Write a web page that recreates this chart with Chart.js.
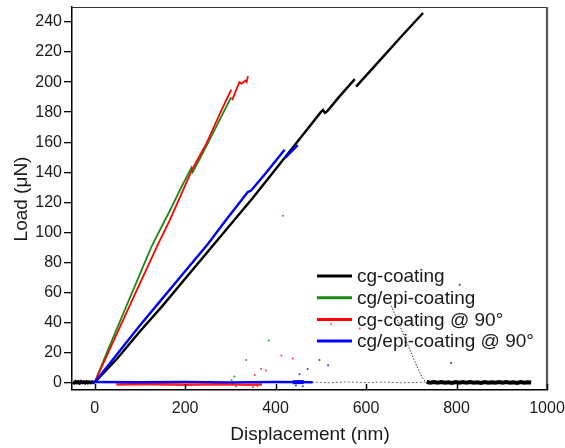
<!DOCTYPE html>
<html>
<head>
<meta charset="utf-8">
<script src="https://cdn.jsdelivr.net/npm/chart.js@4/dist/chart.umd.min.js"></script>
<style>
  html, body { margin: 0; padding: 0; background: #fff; }
  #wrap { width: 565px; height: 448px; }
</style>
</head>
<body>
<div id="wrap"><canvas id="c" width="565" height="448"></canvas></div>
<script>
// Axis ticks
const xTicks = [0, 200, 400, 600, 800, 1000];
const yTicks = [0, 20, 40, 60, 80, 100, 120, 140, 160, 180, 200, 220, 240];

// cg-coating: approach noise, loading (two branches around the load drop), unloading, retraction baseline
const cgPre = [[-48,0.4],[-45,-0.2],[-42,0.5],[-39,-0.1],[-36,0.4],[-33,-0.3],[-30,0.5],[-27,0],[-24,0.4],[-21,-0.2],[-18,0.4],[-15,-0.2],[-12,0.3],[-9,-0.1],[-6,0.3],[-3,0],[0,0]];
const cgLoadA = [[0,0],[50,16],[100,34],[150,51],[200,69],[250,87],[300,105],[350,123],[400,142],[450,161],[500,180],[505,181.5],[509,179.5],[514,180.5],[540,190],[575,202]];
const cgLoadB = [[578,197],[620,211],[680,231],[726,246]];
const cgUnload = [[656,51],[663,46],[670,41],[677,36],[684,31],[691,26],[698,21],[705,16],[712,11],[719,6.5],[725,3],[730,1],[734,0]];
const cgFlat = [[480,0.3],[520,-0.2],[560,0.4],[600,-0.1],[640,0.3],[680,-0.2],[733,0.2]];
const cgRetract = [[734,0.3],[742,-0.2],[750,0.3],[758,-0.1],[766,0.3],[774,-0.2],[782,0.2],[790,-0.3],[798,0.3],[806,-0.2],[814,0.3],[822,-0.1],[830,0.3],[838,-0.2],[846,0.2],[854,-0.3],[862,0.3],[870,-0.2],[878,0.2],[886,-0.2],[894,0.3],[902,-0.1],[910,0.3],[918,-0.2],[926,0.2],[934,-0.3],[942,0.3],[950,-0.2],[958,0.2],[965,0]];
const cgDots = [[807,65],[788,13]];

// cg/epi-coating
const epiLoad = [[0,0],[30,22],[83,60],[125,90],[152,106],[169,116],[190,129],[214,143],[217,140],[250,159],[280,177],[302,190]];
const epiDots = [[303,1.5],[306,-1],[309,4],[312,-2.5],[335,15],[385,28],[416,111]];

// cg-coating @ 90°
const cg90LoadA = [[0,0],[50,33],[91,60],[140,92],[166,108],[216,142],[247,159],[280,181],[302,195]];
const cg90LoadB = [[304,188],[312,194],[320,200],[325,199],[329,200],[333,201],[336,200],[339,204]];
const cg90Base = [[48,-1.3],[120,-1.1],[200,-1.4],[280,-1.2],[340,-1.5],[370,-1.3]];
const cg90Dots = [[350,-3],[354,5],[360,-2.5],[368,9],[379,8],[413,18],[438,16],[523,39],[586,36]];

// cg/epi-coating @ 90°
const epi90LoadA = [[0,0],[50,19],[100,38],[150,56],[200,74],[250,92],[290,108],[339,127],[345,127.5],[380,140],[420,155]];
const epi90LoadB = [[421,149.5],[449,158]];
const epi90Base = [[-5,0.3],[100,0.2],[200,0.4],[300,0.1],[400,0.3],[482,0.2]];
const epi90Blob = [[438,0.2],[462,0.3]];
const epi90Dots = [[445,-2],[453,5.5],[460,-2.5],[471,9],[497,15],[516,11.5]];

// Legend entries
const legendLabels = ['cg-coating', 'cg/epi-coating', 'cg-coating @ 90°', 'cg/epi-coating @ 90°'];
const legendColors = ['#000000', '#1a8a1a', '#ff0000', '#0000ff'];

const FONT = '"Liberation Sans", Arial, sans-serif';
const pts = a => a.map(p => ({ x: p[0], y: p[1] }));

function lineSet(data, color, width, order, dash) {
  return { data: pts(data), showLine: true, borderColor: color, borderWidth: width,
    pointRadius: 0, borderDash: dash || [], order: order, fill: false, tension: 0 };
}
function dotSet(data, color, order) {
  return { data: pts(data), showLine: false, pointRadius: 1, pointBorderWidth: 0,
    backgroundColor: color, borderColor: color, order: order };
}

const decor = {
  id: 'decor',
  afterDraw(chart) {
    const { ctx, chartArea: a, scales } = chart;
    ctx.save();
    // top and right frame
    ctx.strokeStyle = '#333';
    ctx.lineWidth = 1.2;
    ctx.beginPath(); ctx.moveTo(a.left, a.top + 0.5); ctx.lineTo(a.right, a.top + 0.5); ctx.stroke();
    ctx.strokeStyle = '#555';
    ctx.lineWidth = 2.2;
    ctx.beginPath(); ctx.moveTo(a.right, a.top); ctx.lineTo(a.right, a.bottom); ctx.stroke();
    // inward x ticks
    ctx.strokeStyle = '#000';
    ctx.lineWidth = 1.5;
    xTicks.forEach(v => {
      const px = Math.round(scales.x.getPixelForValue(v)) + 0.5;
      ctx.beginPath(); ctx.moveTo(px, a.bottom); ctx.lineTo(px, a.bottom - 6); ctx.stroke();
    });
    // axis titles
    ctx.fillStyle = '#1a1a1a';
    ctx.font = '19px ' + FONT;
    ctx.textAlign = 'center';
    ctx.textBaseline = 'middle';
    ctx.fillText('Displacement (nm)', 310, 435);
    ctx.translate(22, 199);
    ctx.rotate(-Math.PI / 2);
    ctx.fillText('Load (μN)', 0, 0);
    ctx.setTransform(1, 0, 0, 1, 0, 0);
    // legend
    ctx.font = '19px ' + FONT;
    ctx.textAlign = 'left';
    legendLabels.forEach((t, i) => {
      const y = 276 + i * 21.7;
      ctx.strokeStyle = legendColors[i];
      ctx.lineWidth = 3;
      ctx.beginPath(); ctx.moveTo(317, y); ctx.lineTo(352, y); ctx.stroke();
      ctx.fillStyle = '#1a1a1a';
      ctx.fillText(t, 357, y + 1);
    });
    ctx.restore();
  }
};

new Chart(document.getElementById('c'), {
  type: 'scatter',
  data: {
    datasets: [
      lineSet(cgPre, '#000', 3.5, 9),
      lineSet(cgLoadA, '#000', 2.4, 8),
      lineSet(cgLoadB, '#000', 2.4, 8),
      lineSet(cgUnload, '#333', 1, 8, [1.5, 1.5]),
      lineSet(cgFlat, '#666', 1, 8, [2, 2]),
      lineSet(cgRetract, '#000', 4, 8),
      dotSet(cgDots, '#444', 8),
      lineSet(epiLoad, '#1a8a1a', 1.8, 6),
      dotSet(epiDots, '#2a9a2a', 6),
      lineSet(cg90Base, '#ff2020', 2.6, 5),
      dotSet(cg90Dots, '#ff4040', 5),
      lineSet(cg90LoadA, '#ff0000', 1.8, 5),
      lineSet(cg90LoadB, '#ff0000', 1.8, 5),
      lineSet(epi90Base, '#0000ff', 2.4, 2),
      lineSet(epi90Blob, '#0000ff', 4, 2),
      dotSet(epi90Dots, '#3030ff', 2),
      lineSet(epi90LoadA, '#0000ff', 2.4, 1),
      lineSet(epi90LoadB, '#0000ff', 2.4, 1)
    ]
  },
  options: {
    responsive: false,
    animation: false,
    events: [],
    layout: { padding: { top: 7, right: 18, left: 0, bottom: 0 } },
    plugins: { legend: { display: false }, tooltip: { enabled: false } },
    scales: {
      x: {
        type: 'linear', min: -50, max: 1000,
        afterBuildTicks: s => { s.ticks = xTicks.map(v => ({ value: v })); },
        afterFit: s => { s.height = 58; s.paddingRight = 0; s.paddingLeft = 0; },
        grid: { display: true, drawOnChartArea: false, drawTicks: false },
        border: { display: true, color: '#000', width: 1.5 },
        ticks: { padding: 9, color: '#1a1a1a', font: { family: FONT, size: 16 }, callback: v => String(v) }
      },
      y: {
        type: 'linear', min: -5, max: 250,
        afterBuildTicks: s => { s.ticks = yTicks.map(v => ({ value: v })); },
        afterFit: s => { s.width = 72; s.paddingTop = 0; s.paddingBottom = 0; },
        grid: { display: true, drawOnChartArea: false, drawTicks: true, tickLength: 8, color: '#000', lineWidth: 1.3 },
        border: { display: true, color: '#000', width: 1.5 },
        ticks: { padding: 2, color: '#1a1a1a', font: { family: FONT, size: 16 } }
      }
    }
  },
  plugins: [decor]
});
</script>
</body>
</html>
